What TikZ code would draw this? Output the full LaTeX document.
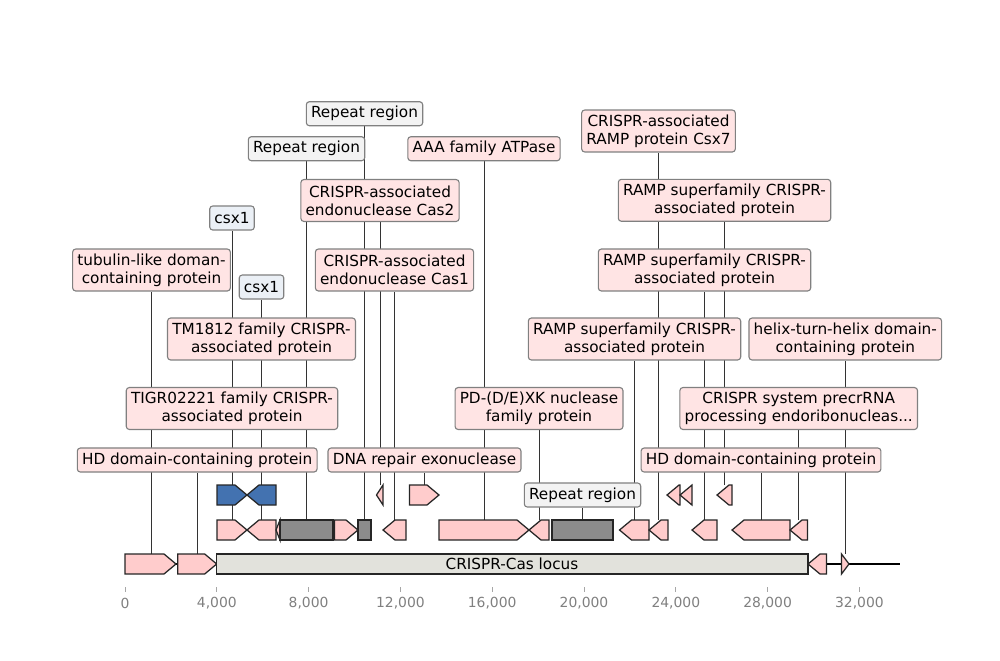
\documentclass[tikz,border=0pt]{standalone}
\usepackage{fontspec}
\setmainfont{DejaVu Sans}
\pgfdeclarelayer{back}
\pgfdeclarelayer{bg}
\pgfsetlayers{back,bg,main}
\definecolor{featpink}{HTML}{FFCCCC}
\definecolor{featgray}{HTML}{8C8C8C}
\definecolor{featblue}{HTML}{4372B0}
\definecolor{locusgray}{HTML}{E2E2DC}
\definecolor{lblpink}{HTML}{FFE4E4}
\definecolor{lblgray}{HTML}{F3F3F3}
\definecolor{lblblue}{HTML}{EBF0F6}
\definecolor{tickgray}{HTML}{808080}
\tikzset{
  feat/.style={draw=black!85,line width=0.9pt,line join=miter},
  lbl/.style={draw=tickgray,line width=0.8pt,rounded corners=2.2pt,fill=lblpink,
    inner xsep=3.4pt,inner ysep=0pt,minimum height=17.3pt,align=center,
    font=\fontsize{11}{13}\selectfont,text=black},
  lbltwo/.style={lbl,minimum height=30.2pt},
  conn/.style={draw=black!80,line width=0.6pt},
  ticklbl/.style={font=\fontsize{10}{12}\selectfont,text=tickgray,inner sep=0pt}
}
\newcommand\featR[4]{%
  \pgfmathsetmacro\hh{min(12,#2-#1)}%
  \filldraw[feat,fill=#4] (#1,#3-10) -- ({#2-\hh},#3-10) -- (#2,#3) -- ({#2-\hh},#3+10) -- (#1,#3+10) -- cycle;}
\newcommand\featL[4]{%
  \pgfmathsetmacro\hh{min(12,#2-#1)}%
  \filldraw[feat,fill=#4] (#2,#3-10) -- ({#1+\hh},#3-10) -- (#1,#3) -- ({#1+\hh},#3+10) -- (#2,#3+10) -- cycle;}
\newcommand\featB[4]{%
  \filldraw[feat,fill=#4] (#1,#3-10) rectangle (#2,#3+10);}
\begin{document}
\begin{tikzpicture}[x=0.72pt,y=-0.72pt]
\useasboundingbox (0,0) rectangle (1000,660);
\begin{pgfonlayer}{back}
\fill[white] (0,0) rectangle (1000,660);
\end{pgfonlayer}
% baseline
\draw[black,line width=1.1pt] (125,564) -- (900,564);
% level 0
\featR{125}{176}{564}{featpink}
\featR{177.7}{216.7}{564}{featpink}
\featB{216.7}{808}{564}{locusgray}
\node[font=\fontsize{11}{13}\selectfont,inner sep=0pt] (locus) at (512,564) {CRISPR-Cas locus};
\featL{808}{826.5}{564}{featpink}
\featR{841.5}{849}{564}{featpink}
% level 1
\featR{217}{247}{530}{featpink}
\featL{247}{276}{530}{featpink}
\featL{276}{280}{530}{featpink}
\featB{280}{333}{530}{featgray}
\featR{334.5}{358}{530}{featpink}
\featB{358}{371}{530}{featgray}
\featL{383}{406}{530}{featpink}
\featR{439}{529}{530}{featpink}
\featL{529}{549}{530}{featpink}
\featB{552}{613}{530}{featgray}
\featL{619.5}{649}{530}{featpink}
\featL{649}{668}{530}{featpink}
\featL{692}{717}{530}{featpink}
\featL{732}{790}{530}{featpink}
\featL{790}{807.5}{530}{featpink}
% level 2
\featR{217}{247}{495}{featblue}
\featL{247}{276}{495}{featblue}
\featL{376.5}{383}{495}{featpink}
\featR{409.5}{439}{495}{featpink}
\featL{667}{680}{495}{featpink}
\featL{680}{692}{495}{featpink}
\featL{717}{732}{495}{featpink}
% feature anchor coordinates
\coordinate (f1) at (151.5,554);
\coordinate (f2) at (197.2,554);
\coordinate (f3) at (232,520);
\coordinate (f4) at (232,485);
\coordinate (f5) at (261.5,485);
\coordinate (f6) at (261.5,520);
\coordinate (f7) at (306.5,520);
\coordinate (f8) at (364.5,520);
\coordinate (f9) at (380,485);
\coordinate (f10) at (394.5,520);
\coordinate (f11) at (424.5,485);
\coordinate (f12) at (484,520);
\coordinate (f13) at (539,520);
\coordinate (f14) at (582.5,520);
\coordinate (f15) at (634.5,520);
\coordinate (f16) at (658.5,520);
\coordinate (f17) at (704.5,520);
\coordinate (f18) at (724.5,485);
\coordinate (f19) at (761,520);
\coordinate (f20) at (798.7,520);
\coordinate (f21) at (845.3,554);
% labels
\node[lbltwo] (l1) at (151.5,270) {tubulin-like doman-\\containing protein};
\node[lbl] (l2) at (197.2,460) {HD domain-containing protein};
\node[lbltwo] (l3) at (232,408.5) {TIGR02221 family CRISPR-\\associated protein};
\node[lbl,fill=lblblue] (l4) at (232,218) {csx1};
\node[lbl,fill=lblblue] (l5) at (261.5,287) {csx1};
\node[lbltwo] (l6) at (261.5,339) {TM1812 family CRISPR-\\associated protein};
\node[lbl,fill=lblgray] (l7) at (306.5,148.7) {Repeat region};
\node[lbl,fill=lblgray] (l8) at (364.5,113.7) {Repeat region};
\node[lbltwo] (l9) at (380,200.5) {CRISPR-associated\\endonuclease Cas2};
\node[lbltwo] (l10) at (394.5,270) {CRISPR-associated\\endonuclease Cas1};
\node[lbl] (l11) at (424.5,460) {DNA repair exonuclease};
\node[lbl] (l12) at (484,148.7) {AAA family ATPase};
\node[lbltwo] (l13) at (539,408.5) {PD-(D/E)XK nuclease\\family protein};
\node[lbl,fill=lblgray] (l14) at (582.5,495) {Repeat region};
\node[lbltwo] (l15) at (634.5,339) {RAMP superfamily CRISPR-\\associated protein};
\node[lbltwo] (l16) at (658.5,131) {CRISPR-associated\\RAMP protein Csx7};
\node[lbltwo] (l17) at (704.5,270) {RAMP superfamily CRISPR-\\associated protein};
\node[lbltwo] (l18) at (724.5,200.3) {RAMP superfamily CRISPR-\\associated protein};
\node[lbl] (l19) at (761,460) {HD domain-containing protein};
\node[lbltwo] (l20) at (798.7,408.5) {CRISPR system precrRNA\\processing endoribonucleas...};
\node[lbltwo] (l21) at (845.3,339) {helix-turn-helix domain-\\containing protein};
% connectors behind everything
\begin{pgfonlayer}{bg}
\foreach \i in {1,...,21} {\draw[conn] (f\i) -- (l\i.south);}
\end{pgfonlayer}
% axis
\foreach \i/\t in {0/0,1/{4,000},2/{8,000},3/{12,000},4/{16,000},5/{20,000},6/{24,000},7/{28,000},8/{32,000}} {
  \draw[tickgray!70,line width=0.6pt] ({125+91.8*\i},587) -- ({125+91.8*\i},592);
  \node[ticklbl] (t\i) at ({125+91.8*\i},603) {\t};
}
\end{tikzpicture}
\end{document}
